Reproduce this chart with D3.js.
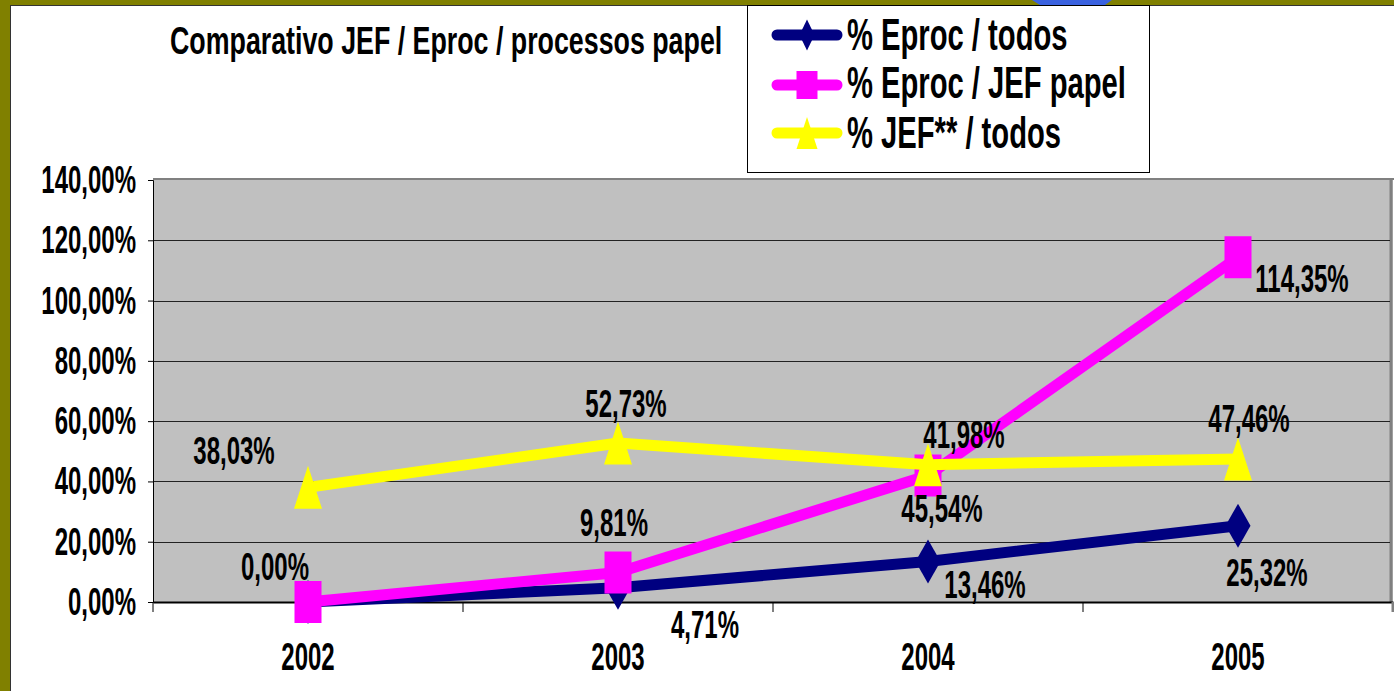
<!DOCTYPE html>
<html>
<head>
<meta charset="utf-8" />
<title>Comparativo JEF / Eproc / processos papel</title>
<style>
  html, body { margin: 0; padding: 0; background: #fff; }
  svg { display: block; }
  text { font-family: "Liberation Sans", Arial, sans-serif; font-weight: bold; fill: #000; }
</style>
<script src="https://cdn.jsdelivr.net/npm/d3@7"></script>
</head>
<body>
<svg id="chart" width="1394" height="691"></svg>
<script>
// data
var years = ["2002", "2003", "2004", "2005"];
var eprocTodos = [0, 4.71, 13.46, 25.32];
var eprocJefPapel = [0, 9.81, 41.98, 114.35];
var jefTodos = [38.03, 52.73, 45.54, 47.46];
var yTicks = [0, 20, 40, 60, 80, 100, 120, 140];
var seriesNames = ["% Eproc / todos", "% Eproc / JEF papel", "% JEF** / todos"];

// hand placed label offsets (dx, dy from point), as in the original
var labelOffsets = [
  [null, [87, 50], [57, 37], [29, 60]],
  [[-33, -22], [-4, -36], [36, -27], [64, 35]],
  [[-74, -23], [8, -26], [14, 57], [11, -27]]
];

var series = [
  { name: seriesNames[0], values: eprocTodos, color: "#000080", shape: "diamond" },
  { name: seriesNames[1], values: eprocJefPapel, color: "#FF00FF", shape: "square" },
  { name: seriesNames[2], values: jefTodos, color: "#FFFF00", shape: "triangle" }
];

var fmt = function (v) { return d3.format(".2f")(v).replace(".", ",") + "%"; };
var SY = 1.6; // text in the original is stretched vertically

var svg = d3.select("#chart");

// frame
svg.append("rect").attr("x", 0).attr("y", 0).attr("width", 1394).attr("height", 5).attr("fill", "#808000");
svg.append("rect").attr("x", 0).attr("y", 0).attr("width", 10).attr("height", 691).attr("fill", "#808000");
svg.append("line").attr("x1", 11).attr("x2", 1394).attr("y1", 5.5).attr("y2", 5.5).attr("stroke", "#333").attr("stroke-width", 1);
svg.append("line").attr("x1", 10.5).attr("x2", 10.5).attr("y1", 5).attr("y2", 691).attr("stroke", "#333").attr("stroke-width", 1);
svg.append("path").attr("d", "M1032,0 L1112,0 L1105,5 L1040,5 Z").attr("fill", "#3A62E0");

var plotL = 153, plotR = 1393, plotT = 180, plotB = 602;

var x = d3.scaleBand().domain(years).range([plotL, plotR]);
var y = d3.scaleLinear().domain([0, 140]).range([plotB, plotT]);
var cx = function (i) { return x(years[i]) + x.bandwidth() / 2; };

// plot area
svg.append("rect").attr("x", plotL).attr("y", plotT).attr("width", plotR - plotL).attr("height", plotB - plotT)
  .attr("fill", "#C0C0C0");
svg.append("line").attr("x1", plotL).attr("x2", 1394).attr("y1", plotT - 1).attr("y2", plotT - 1)
  .attr("stroke", "#808080").attr("stroke-width", 2);
svg.append("line").attr("x1", plotR - 2).attr("x2", plotR - 2).attr("y1", plotT).attr("y2", plotB)
  .attr("stroke", "#808080").attr("stroke-width", 3);

// gridlines
svg.append("g").selectAll("line").data(yTicks.filter(function (d) { return d > 0 && d < 140; })).join("line")
  .attr("x1", plotL).attr("x2", plotR - 3)
  .attr("y1", function (d) { return Math.round(y(d)) + 0.5; })
  .attr("y2", function (d) { return Math.round(y(d)) + 0.5; })
  .attr("stroke", "#222").attr("stroke-width", 1);

// axes
var yAxis = svg.append("g").attr("transform", "translate(" + plotL + ",0)")
  .call(d3.axisLeft(y).tickValues(yTicks).tickSize(5).tickFormat(""));
yAxis.select(".domain").attr("stroke", "#000");
var xAxis = svg.append("g").attr("transform", "translate(0," + plotB + ")")
  .call(d3.axisBottom(x).tickSize(0).tickFormat(""));
xAxis.select(".domain").attr("stroke", "#000").attr("stroke-width", 2);
svg.append("g").selectAll("line").data(years.map(function (d) { return x(d); }).concat([plotR])).join("line")
  .attr("x1", function (d) { return d; }).attr("x2", function (d) { return d; })
  .attr("y1", plotB).attr("y2", plotB + 10)
  .attr("stroke", function (d, i) { return i === 4 ? "#808080" : "#000"; })
  .attr("stroke-width", function (d, i) { return i === 4 ? 3 : 1; });

function stretchedText(g, tx, ty, str, size, anchor, sy) {
  return g.append("text")
    .attr("transform", "translate(" + tx + "," + ty + ") scale(1," + (sy || SY) + ")")
    .attr("font-size", size).attr("text-anchor", anchor).text(str);
}

// tick labels
yTicks.forEach(function (t) { stretchedText(svg, 136, y(t) + 13, fmt(t), 24, "end"); });
years.forEach(function (yr, i) { stretchedText(svg, cx(i), 670, yr, 24, "middle"); });

// marker shapes
function markerPath(shape, w, h) {
  var a = w / 2, b = h / 2;
  if (shape === "diamond") return "M0," + (-b) + "L" + a + ",0L0," + b + "L" + (-a) + ",0Z";
  if (shape === "square") return "M" + (-a) + "," + (-b) + "H" + a + "V" + b + "H" + (-a) + "Z";
  return "M0," + (-b) + "L" + a + "," + b + "H" + (-a) + "Z";
}
var markerSize = { diamond: [25, 44], square: [27, 42], triangle: [28, 43] };

var line = d3.line().x(function (d, i) { return cx(i); }).y(function (d) { return y(d); });

series.forEach(function (s) {
  var g = svg.append("g");
  g.append("path").attr("d", line(s.values)).attr("fill", "none")
    .attr("stroke", s.color).attr("stroke-width", 11).attr("stroke-linejoin", "round");
  g.selectAll("path.m").data(s.values).join("path").attr("class", "m")
    .attr("transform", function (d, i) { return "translate(" + cx(i) + "," + y(d) + ")"; })
    .attr("d", markerPath(s.shape, markerSize[s.shape][0], markerSize[s.shape][1]))
    .attr("fill", s.color);
});

// data labels
var labels = svg.append("g");
series.forEach(function (s, si) {
  s.values.forEach(function (v, i) {
    var o = labelOffsets[si][i];
    if (!o) return;
    stretchedText(labels, cx(i) + o[0], y(v) + o[1], fmt(v), 24, "middle");
  });
});

// title
stretchedText(svg, 170, 54, "Comparativo JEF / Eproc / processos papel", 26.8, "start", 1.45);

// legend
var lg = svg.append("g");
lg.append("rect").attr("x", 747.5).attr("y", 5.5).attr("width", 402).attr("height", 167)
  .attr("fill", "#fff").attr("stroke", "#000").attr("stroke-width", 1);
var legendMarker = { diamond: [15, 31], square: [21, 28], triangle: [21, 32] };
var rowsY = [35, 85, 133];
var textY = [50, 98, 148];
series.forEach(function (s, i) {
  var ry = rowsY[i];
  lg.append("line").attr("x1", 777).attr("x2", 837).attr("y1", ry).attr("y2", ry)
    .attr("stroke", s.color).attr("stroke-width", 11).attr("stroke-linecap", "round");
  lg.append("path").attr("transform", "translate(807," + ry + ")")
    .attr("d", markerPath(s.shape, legendMarker[s.shape][0], legendMarker[s.shape][1]))
    .attr("fill", s.color);
  stretchedText(lg, 847, textY[i], s.name, 29.2, "start", 1.53);
});
</script>
</body>
</html>
